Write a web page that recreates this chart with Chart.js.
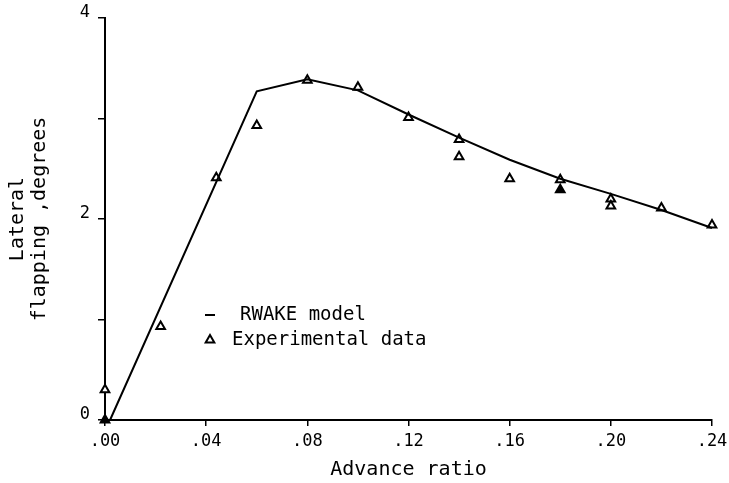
<!DOCTYPE html>
<html>
<head>
<meta charset="utf-8">
<script src="https://cdn.jsdelivr.net/npm/chart.js@4.4.1/dist/chart.umd.min.js"></script>
<style>
  html, body { margin: 0; padding: 0; background: #fff; }
  #wrap { width: 729px; height: 483px; }
</style>
</head>
<body>
<div id="wrap"><canvas id="c" width="729" height="483"></canvas></div>
<script>
// RWAKE model curve: advance ratio vs lateral flapping (degrees)
const modelMu   = [0.002, 0.06, 0.08, 0.10, 0.12, 0.14, 0.16, 0.18, 0.20, 0.22, 0.24];
const modelFlap = [0.00, 3.27, 3.39, 3.28, 3.04, 2.81, 2.59, 2.40, 2.25, 2.09, 1.91];

// Experimental measurements
const expMu   = [0.000, 0.000, 0.022, 0.044, 0.060, 0.080, 0.100, 0.120, 0.140, 0.140, 0.160, 0.180, 0.180, 0.200, 0.200, 0.220, 0.240];
const expFlap = [0.00, 0.30, 0.93, 2.41, 2.93, 3.38, 3.31, 3.01, 2.79, 2.62, 2.40, 2.39, 2.29, 2.20, 2.13, 2.11, 1.94];
// points plotted with a solid (filled) symbol
const expSolid = [true, false, false, false, false, false, false, false, false, false, false, false, true, false, false, false, false];

const xTicks = [0, 0.04, 0.08, 0.12, 0.16, 0.20, 0.24];
const yLabelled = [0, 2, 4];

const legendItems = ['RWAKE model', 'Experimental data'];

const MONO = '"DejaVu Sans Mono", "Liberation Mono", monospace';
const INK = '#000';

const pairs = (xs, ys) => xs.map((x, i) => ({ x: x, y: ys[i] }));

// Legend drawn inside the plot area, below the rising branch of the curve
const innerLegend = {
  id: 'innerLegend',
  afterDatasetsDraw(chart) {
    const { ctx, chartArea } = chart;
    const x0 = chartArea.left + 105;
    const y0 = chartArea.top + 297;
    const dy = 25;
    ctx.save();
    ctx.fillStyle = INK;
    ctx.strokeStyle = INK;
    ctx.font = '19px ' + MONO;
    ctx.textBaseline = 'middle';
    ctx.textAlign = 'left';
    // line sample
    ctx.lineWidth = 2;
    ctx.beginPath();
    ctx.moveTo(x0 - 5, y0);
    ctx.lineTo(x0 + 5, y0);
    ctx.stroke();
    ctx.fillText(legendItems[0], x0 + 30, y0);
    // symbol sample
    const r = 5, ty = y0 + dy;
    ctx.lineWidth = 2;
    ctx.beginPath();
    ctx.moveTo(x0, ty - r);
    ctx.lineTo(x0 + r * 0.866, ty + r * 0.5);
    ctx.lineTo(x0 - r * 0.866, ty + r * 0.5);
    ctx.closePath();
    ctx.stroke();
    ctx.fillText(legendItems[1], x0 + 22, ty);
    ctx.restore();
  }
};

new Chart(document.getElementById('c'), {
  type: 'scatter',
  data: {
    datasets: [
      {
        label: legendItems[0],
        data: pairs(modelMu, modelFlap),
        showLine: true,
        borderColor: INK,
        borderWidth: 2,
        pointRadius: 0,
        tension: 0,
        clip: false
      },
      {
        label: legendItems[1],
        data: pairs(expMu, expFlap),
        showLine: false,
        pointStyle: 'triangle',
        pointRadius: 5,
        borderWidth: 2,
        borderColor: INK,
        backgroundColor: expSolid.map(s => s ? INK : '#fff'),
        clip: false
      }
    ]
  },
  plugins: [innerLegend],
  options: {
    responsive: false,
    animation: false,
    devicePixelRatio: 1,
    layout: { padding: { top: 18, right: 17, left: 0, bottom: 0 } },
    plugins: {
      legend: { display: false },
      tooltip: { enabled: false }
    },
    scales: {
      x: {
        type: 'linear',
        min: 0,
        max: 0.24,
        afterFit: s => { s.height = 63; s.paddingLeft = 0; s.paddingRight = 0; },
        afterBuildTicks: s => { s.ticks = xTicks.map(v => ({ value: v })); },
        ticks: {
          color: INK,
          font: { family: MONO, size: 17 },
          padding: 5,
          maxRotation: 0,
          callback: v => v.toFixed(2).replace(/^0/, '')
        },
        grid: { drawOnChartArea: false, drawTicks: true, tickLength: 6, color: INK, lineWidth: 1.5 },
        border: { display: true, color: INK, width: 2 },
        title: {
          display: true,
          text: 'Advance ratio',
          color: INK,
          font: { family: MONO, size: 20 },
          padding: { top: 0, bottom: 1 }
        }
      },
      y: {
        type: 'linear',
        min: 0,
        max: 4,
        afterFit: s => { s.width = 105; s.paddingTop = 0; s.paddingBottom = 0; },
        ticks: {
          stepSize: 1,
          color: INK,
          font: { family: MONO, size: 17 },
          padding: 8,
          labelOffset: -5,
          callback: v => yLabelled.includes(v) ? String(v) : ''
        },
        grid: { drawOnChartArea: false, drawTicks: true, tickLength: 7, color: INK, lineWidth: 1.5 },
        border: { display: true, color: INK, width: 2 },
        title: {
          display: true,
          text: ['Lateral', 'flapping ,degrees'],
          color: INK,
          font: { family: MONO, size: 20, lineHeight: 1.1 },
          padding: { top: 7, bottom: 0 }
        }
      }
    }
  }
});
</script>
</body>
</html>
